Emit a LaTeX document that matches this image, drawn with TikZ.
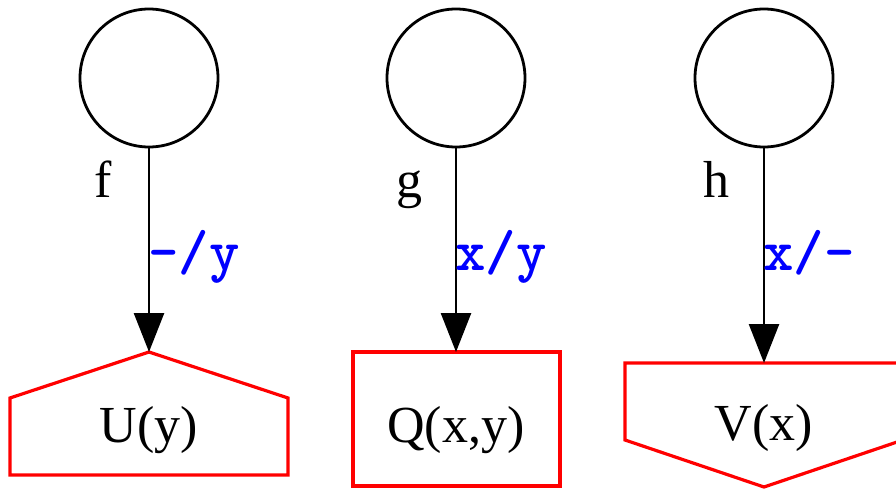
\documentclass[tikz,border=0pt]{standalone}
\usepackage{fontspec}
\setmainfont{Liberation Serif}
\usetikzlibrary{arrows.meta}
\tikzset{
  statenode/.style={circle, draw=black, line width=2.8pt, minimum size=138pt, inner sep=0pt},
  redshape/.style={draw=red, line width=3.2pt, line join=miter},
  bigtext/.style={font=\fontsize{52}{60}\selectfont, inner sep=0pt},
  xlab/.style={font=\fontsize{52}{60}\selectfont, inner sep=0pt, anchor=base},
  elabel/.style={font=\ttfamily\bfseries\fontsize{58}{64}\selectfont, text=blue, inner sep=0pt, anchor=base west},
  edge/.style={draw=black, line width=2.6pt, -{Triangle[length=39pt,width=30pt]}, shorten >=0pt}
}
\begin{document}
\begin{tikzpicture}[x=1pt,y=-1pt]
\useasboundingbox (0,0) rectangle (896,489);
% circles
\node[statenode] (f) at (149,78) {};
\node[statenode] (g) at (456,78) {};
\node[statenode] (h) at (764,78) {};
% external labels
\node[xlab] (fl) at (103,197) {f};
\node[xlab] (gl) at (409,197) {g};
\node[xlab] (hl) at (716,197) {h};
% shapes
\coordinate (Utop) at (149,352);
\draw[redshape] (Utop) -- (288,398) -- (288,475) -- (10,475) -- (10,398) -- cycle;
\node[bigtext] (U) at (149,430) {U(y)};
\coordinate (Qtop) at (456,352);
\draw[redshape] (353,352) rectangle (560,486);
\node[bigtext] (Q) at (456,430) {Q(x,y)};
\coordinate (Vtop) at (764,363);
\draw[redshape] (625,363) -- (903,363) -- (903,440) -- (764,487) -- (625,440) -- cycle;
\node[bigtext] (V) at (764,428) {V(x)};
% edges
\draw[edge] (f) -- (Utop);
\draw[edge] (g) -- (Qtop);
\draw[edge] (h) -- (Vtop);
% edge labels
\node[elabel] (l1) at (148,270) {-/y};
\node[elabel] (l2) at (455,270) {x/y};
\node[elabel] (l3) at (763,270) {x/-};
\end{tikzpicture}
\end{document}
